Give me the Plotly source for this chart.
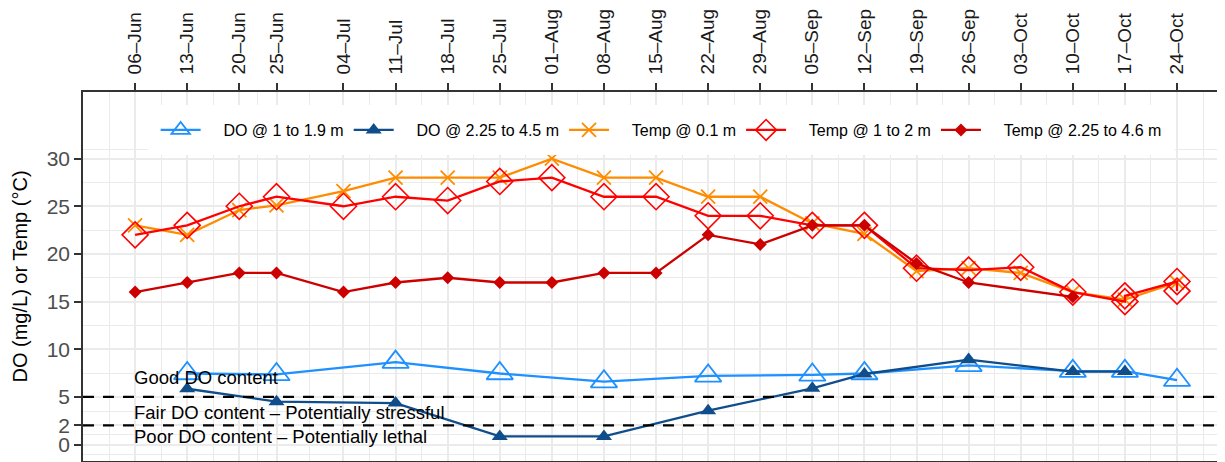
import plotly.graph_objects as go
import pandas as pd

# ---------------- data ----------------
tick_dates = ["2022-06-06", "2022-06-13", "2022-06-20", "2022-06-25", "2022-07-04",
              "2022-07-11", "2022-07-18", "2022-07-25", "2022-08-01", "2022-08-08",
              "2022-08-15", "2022-08-22", "2022-08-29", "2022-09-05", "2022-09-12",
              "2022-09-19", "2022-09-26", "2022-10-03", "2022-10-10", "2022-10-17",
              "2022-10-24"]
tick_labels = ["06–Jun", "13–Jun", "20–Jun", "25–Jun", "04–Jul", "11–Jul", "18–Jul",
               "25–Jul", "01–Aug", "08–Aug", "15–Aug", "22–Aug", "29–Aug", "05–Sep",
               "12–Sep", "19–Sep", "26–Sep", "03–Oct", "10–Oct", "17–Oct", "24–Oct"]

do_shallow_dates = ["2022-06-13", "2022-06-25", "2022-07-11", "2022-07-25", "2022-08-08",
                    "2022-08-22", "2022-09-05", "2022-09-12", "2022-09-26", "2022-10-10",
                    "2022-10-17", "2022-10-24"]
do_shallow = [7.45, 7.35, 8.65, 7.45, 6.6, 7.2, 7.3, 7.45, 8.3, 7.7, 7.7, 6.75]

do_deep_dates = ["2022-06-13", "2022-06-25", "2022-07-11", "2022-07-25", "2022-08-08",
                 "2022-08-22", "2022-09-05", "2022-09-12", "2022-09-26", "2022-10-10",
                 "2022-10-17"]
do_deep = [5.85, 4.5, 4.35, 0.85, 0.85, 3.55, 5.9, 7.4, 8.9, 7.65, 7.65]

temp_surf_dates = tick_dates
temp_surf = [23.0, 22.0, 24.6, 25.1, 26.6, 28.0, 28.0, 28.0, 30.0, 28.0, 28.0, 26.0, 26.0,
             23.2, 22.1, 18.2, 18.5, 18.0, 16.0, 15.2, 17.0]

temp_mid_dates = ["2022-06-06", "2022-06-13", "2022-06-20", "2022-06-25", "2022-07-04",
                  "2022-07-11", "2022-07-18", "2022-07-25", "2022-08-01", "2022-08-08",
                  "2022-08-15", "2022-08-22", "2022-08-29", "2022-09-05", "2022-09-12",
                  "2022-09-19", "2022-09-26", "2022-10-03", "2022-10-10", "2022-10-17",
                  "2022-10-17", "2022-10-24", "2022-10-24"]
temp_mid = [22.0, 23.0, 25.0, 26.0, 25.0, 26.0, 25.6, 27.6, 28.0, 26.0, 26.0, 24.0, 24.0,
            23.0, 23.0, 18.5, 18.3, 18.6, 16.0, 15.0, 15.6, 17.1, 16.1]

temp_deep_dates = ["2022-06-06", "2022-06-13", "2022-06-20", "2022-06-25", "2022-07-04",
                   "2022-07-11", "2022-07-18", "2022-07-25", "2022-08-01", "2022-08-08",
                   "2022-08-15", "2022-08-22", "2022-08-29", "2022-09-05", "2022-09-12",
                   "2022-09-19", "2022-09-26", "2022-10-10"]
temp_deep = [16.0, 17.0, 18.0, 18.0, 16.0, 17.0, 17.5, 17.0, 17.0, 18.0, 18.0, 22.0, 21.0,
             23.0, 23.0, 19.0, 17.0, 15.5]

y_ticks = [0, 2, 5, 10, 15, 20, 25, 30]
do_thresholds = [5, 2]
zone_labels = ["Good DO content", "Fair DO content – Potentially stressful",
               "Poor DO content – Potentially lethal"]
zone_label_y = [7.0, 3.4, 0.85]

names = ["DO @ 1 to 1.9 m", "DO @ 2.25 to 4.5 m", "Temp @ 0.1 m",
         "Temp @ 1 to 2 m", "Temp @ 2.25 to 4.6 m"]

# ---------------- styling helpers ----------------
FONT = "Liberation Sans, Arial, sans-serif"
td = pd.to_datetime(tick_dates)
minor_x = [td[0] - pd.Timedelta(days=3.5)] + [td[i] + (td[i + 1] - td[i]) / 2 for i in range(len(td) - 1)] \
          + [td[-1] + pd.Timedelta(days=3.5)]
ext = [y_ticks[0] - (y_ticks[1] - y_ticks[0])] + y_ticks + [y_ticks[-1] + (y_ticks[1] - y_ticks[0])]
minor_y = [(ext[i] + ext[i + 1]) / 2 for i in range(len(ext) - 1)]

pad = "\u00a0" * 4

fig = go.Figure()
fig.add_trace(go.Scatter(
    x=do_shallow_dates, y=do_shallow, mode="lines+markers", name=pad + names[0],
    line=dict(color="#1E90FF", width=2.3),
    marker=dict(symbol="triangle-up-open", size=23, color="#1E90FF",
                line=dict(width=1.8, color="#1E90FF"))))
fig.add_trace(go.Scatter(
    x=do_deep_dates, y=do_deep, mode="lines+markers", name=pad + names[1],
    line=dict(color="#104E8B", width=2.3),
    marker=dict(symbol="triangle-up", size=14, color="#104E8B")))
fig.add_trace(go.Scatter(
    x=temp_surf_dates, y=temp_surf, mode="lines+markers", name=pad + names[2],
    line=dict(color="#FF8C00", width=2.3),
    marker=dict(symbol="x-thin-open", size=14, color="#FF8C00",
                line=dict(width=1.8, color="#FF8C00"))))
fig.add_trace(go.Scatter(
    x=temp_mid_dates, y=temp_mid, mode="lines+markers", name=pad + names[3],
    line=dict(color="#FF0000", width=2.3),
    marker=dict(symbol="diamond-open", size=20, color="#FF0000",
                line=dict(width=1.6, color="#FF0000"))))
fig.add_trace(go.Scatter(
    x=temp_deep_dates, y=temp_deep, mode="lines+markers", name=pad + names[4],
    line=dict(color="#CD0000", width=2.3),
    marker=dict(symbol="diamond", size=10, color="#CD0000")))

shapes = []
for v in do_thresholds:
    shapes.append(dict(type="line", xref="paper", yref="y", x0=0, x1=1, y0=v, y1=v,
                       line=dict(color="black", width=2.3, dash="11px,9px"), layer="above"))

annotations = []
for txt, yy in zip(zone_labels, zone_label_y):
    annotations.append(dict(x=tick_dates[0], y=yy, xref="x", yref="y", text=txt,
                            showarrow=False, xanchor="left", yanchor="middle", xshift=-3,
                            font=dict(family=FONT, size=18.5, color="black")))

# page body has an 8px margin: the figure is sized so it ends at the window edge
fig.update_layout(
    width=1217, height=454,
    margin=dict(l=75, r=0, t=84, b=1),
    paper_bgcolor="white", plot_bgcolor="white",
    font=dict(family=FONT),
    shapes=shapes, annotations=annotations,
    showlegend=True,
    legend=dict(orientation="h", x=0.0566, xanchor="left", y=0.897, yanchor="middle",
                bgcolor="white", bordercolor="white", borderwidth=8,
                font=dict(family=FONT, size=16, color="black"),
                itemwidth=40),
    xaxis=dict(
        type="date", side="top",
        range=["2022-05-30", "2022-10-30 10:48"],
        tickmode="array", tickvals=tick_dates, ticktext=tick_labels,
        tickangle=-90, tickfont=dict(family=FONT, size=19, color="#1a1a1a"),
        ticks="outside", ticklen=7, tickwidth=1.5, tickcolor="#333333",
        ticklabelstandoff=5,
        showline=True, linecolor="#333333", linewidth=1.5, mirror=True,
        showgrid=True, gridcolor="#EBEBEB", gridwidth=2,
        minor=dict(tickmode="array", tickvals=minor_x, showgrid=True,
                   gridcolor="#EBEBEB", gridwidth=1, ticks=""),
        zeroline=False, automargin=False, fixedrange=True,
    ),
    yaxis=dict(
        range=[-1.73, 36.99],
        tickmode="array", tickvals=y_ticks,
        tickfont=dict(family=FONT, size=21, color="#4D4D4D"),
        ticks="outside", ticklen=7, tickwidth=1.5, tickcolor="#333333",
        showline=True, linecolor="#333333", linewidth=1.5, mirror=False,
        showgrid=True, gridcolor="#EBEBEB", gridwidth=2,
        minor=dict(tickmode="array", tickvals=minor_y, showgrid=True,
                   gridcolor="#EBEBEB", gridwidth=1, ticks=""),
        title=dict(text="DO (mg/L) or Temp (°C)", font=dict(family=FONT, size=20, color="black"),
                   standoff=14),
        zeroline=False, automargin=False, fixedrange=True,
    ),
)

fig.write_html("out.html")
